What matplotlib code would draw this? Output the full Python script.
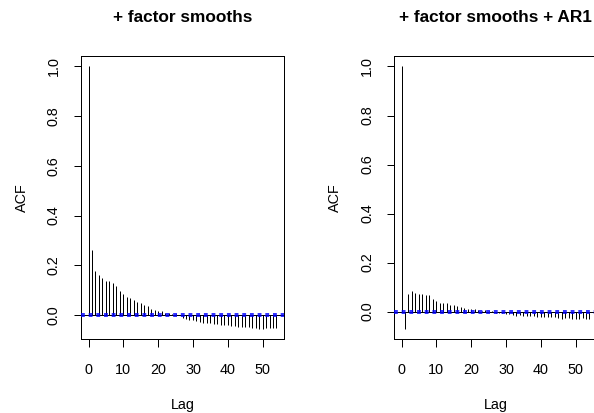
"""ACF of model residuals: factor smooths vs factor smooths + AR1 (two panels, R acf() look)."""
import matplotlib
matplotlib.use("Agg")
import matplotlib.pyplot as plt
import numpy as np

plt.rcParams["font.family"] = ["Liberation Sans", "DejaVu Sans"]

titles = ["+ factor smooths", "+ factor smooths + AR1"]

acf_smooths = [
    1.0, 0.263, 0.176, 0.162, 0.147, 0.138, 0.135, 0.127, 0.118, 0.098,
    0.082, 0.070, 0.066, 0.060, 0.051, 0.046, 0.039, 0.034, 0.025, 0.020,
    0.017, 0.016, 0.009, 0.008, 0.005, 0.003, 0.000, -0.013, -0.017, -0.020,
    -0.021, -0.024, -0.027, -0.031, -0.032, -0.033, -0.036, -0.037, -0.039, -0.041,
    -0.041, -0.044, -0.044, -0.047, -0.047, -0.048, -0.050, -0.051, -0.052, -0.055,
    -0.055, -0.051, -0.052, -0.051, -0.054,
]
acf_ar1 = [
    1.0, -0.069, 0.070, 0.085, 0.077, 0.072, 0.073, 0.066, 0.067, 0.051,
    0.043, 0.035, 0.035, 0.034, 0.026, 0.026, 0.022, 0.020, 0.014, 0.011,
    0.009, 0.011, 0.007, 0.004, 0.005, 0.003, 0.001, -0.005, -0.007, -0.007,
    -0.009, -0.011, -0.012, -0.016, -0.015, -0.018, -0.018, -0.019, -0.019, -0.020,
    -0.020, -0.023, -0.023, -0.024, -0.024, -0.026, -0.030, -0.028, -0.028, -0.031,
    -0.030, -0.030, -0.027, -0.030, -0.030,
]
ci = 0.004  # 95% limits, tiny because n is huge
x_ticks = [0, 10, 20, 30, 40, 50]
y_ticks = [0.0, 0.2, 0.4, 0.6, 0.8, 1.0]

W, H = 594, 413
fig = plt.figure(figsize=(W / 72, H / 72), dpi=72)


def panel(left, acf, title):
    ax = fig.add_axes([left / W, (H - 339) / H, 203 / W, 283 / H])
    acf = np.asarray(acf)
    lags = np.arange(len(acf))
    ax.vlines(lags, 0, acf, color="black", lw=1)
    ax.axhline(0, color="black", lw=1)
    for c in (ci, -ci):
        ax.axhline(c, color="#0000ff", lw=1.6, ls=(0, (2.4, 2.4)), zorder=3)
    # R-style 4% padding
    lo, hi = min(acf.min(), -ci), max(acf.max(), ci)
    ax.set_ylim(lo - 0.04 * (hi - lo), hi + 0.04 * (hi - lo))
    ax.set_xlim(-0.04 * lags[-1], 1.04 * lags[-1])
    ax.set_xticks(x_ticks)
    ax.set_yticks(y_ticks)
    ax.set_yticklabels([f"{v:.1f}" for v in y_ticks], rotation=90, va="center")
    ax.tick_params(length=7.5, width=1, labelsize=14.4, direction="out")
    ax.tick_params(axis="x", pad=16)
    ax.tick_params(axis="y", pad=12.5)
    for s in ax.spines.values():
        s.set_linewidth(1)
    ax.set_xlabel("Lag", fontsize=14.4, labelpad=21.5)
    ax.set_ylabel("ACF", fontsize=14.4, labelpad=18)
    ax.set_title(title, fontsize=17.3, fontweight="bold", pad=34)
    return ax


panel(81, acf_smooths, titles[0])
panel(394, acf_ar1, titles[1])

fig.savefig("out.png", dpi=72)
